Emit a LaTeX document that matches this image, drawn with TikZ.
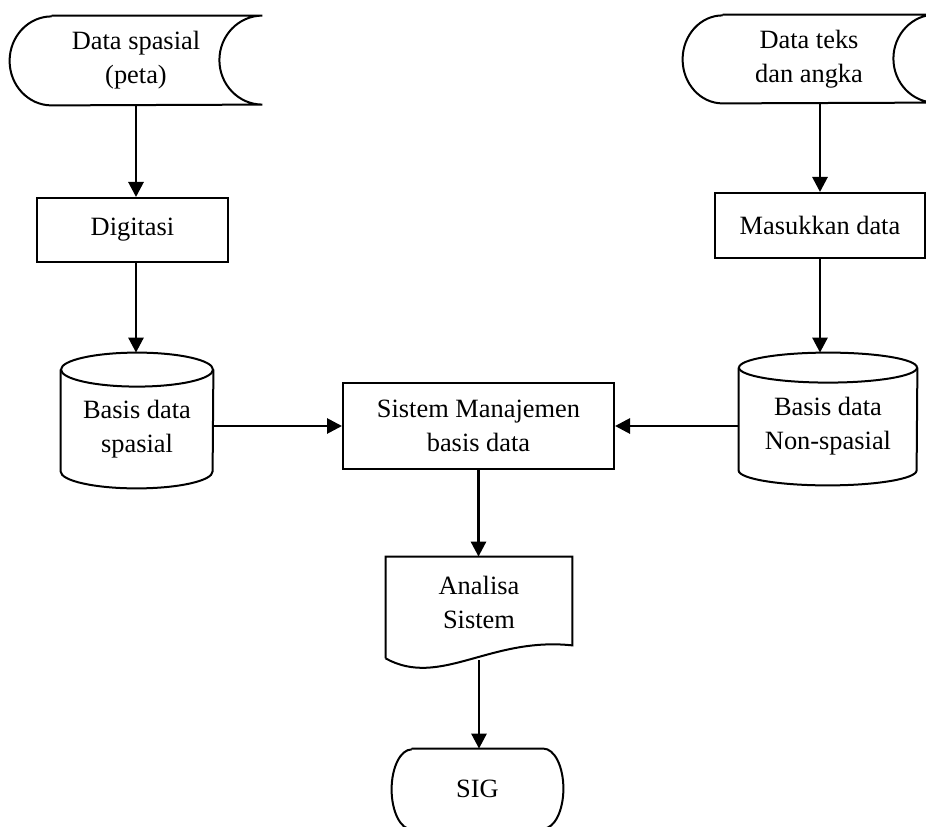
\documentclass[tikz,border=0pt]{standalone}
\usepackage{fontspec}
\setmainfont{Liberation Serif}
\usetikzlibrary{arrows.meta,calc}

\begin{document}
\begin{tikzpicture}
                \tikzset{x=0.5pt, y=0.5pt, font=\fontsize{13.2}{17}\selectfont}
                \tikzstyle{box}=[rectangle, draw, line width=1pt, align=center, inner sep=0pt]
                \tikzstyle{blank}=[rectangle, align=center, inner sep=0pt]
                \tikzstyle{outline}=[line width=1pt]
                \tikzstyle{flow}=[line width=1.4pt, -{Triangle[length=7.5pt, width=7.5pt]}]

                \useasboundingbox (0, 0) rectangle (926, 826);

                % input data
                \draw (136.0, 765.5)  node[blank, minimum width=126pt, minimum height=44.5pt]  (peta)  {Data spasial\\(peta)};
                \draw (809.0, 767.0)  node[blank, minimum width=126pt, minimum height=44pt]    (teks)  {Data teks\\dan angka};

                % input processes
                \draw (132.5, 596.0)  node[box, minimum width=95.5pt, minimum height=32pt]     (digit) {Digitasi};
                \draw (820.0, 600.5)  node[box, minimum width=105pt, minimum height=32.5pt]    (masuk) {Masukkan data};

                % databases
                \draw (137.0, 397.0)  node[blank, minimum width=76pt, minimum height=59pt]     (bdsp)  {Basis data\\spasial};
                \draw (828.0, 399.5)  node[blank, minimum width=89pt, minimum height=58.5pt]   (bdns)  {Basis data\\Non-spasial};
                \coordinate (bdsptop) at ($(bdsp.north)+(0,17)$);
                \coordinate (bdnstop) at ($(bdns.north)+(0,15)$);

                % management system
                \draw (478.5, 400.0)  node[box, minimum width=135.5pt, minimum height=43pt]    (smbd)  {Sistem Manajemen\\basis data};

                % output
                \draw (479.0, 223.5)  node[blank, minimum width=93pt, minimum height=45.5pt]   (anls)  {Analisa\\Sistem};
                \draw (477.5, 37.0)   node[blank, minimum width=85.5pt, minimum height=40pt]   (sig)   {SIG};

                % stored data outlines
                \draw[outline] ($(peta.north west)+(42,0)$) -- (peta.north east)
                    arc[start angle=90, end angle=270, x radius=21.5pt, y radius=22.25pt]
                    -- ($(peta.south west)+(42,0)$)
                    arc[start angle=270, end angle=90, x radius=21pt, y radius=22.25pt];
                \draw[outline] ($(teks.north west)+(40,0)$) -- (teks.north east)
                    arc[start angle=90, end angle=270, x radius=21pt, y radius=22pt]
                    -- ($(teks.south west)+(40,0)$)
                    arc[start angle=270, end angle=90, x radius=20pt, y radius=22pt];

                % cylinder outlines
                \draw[outline] (bdsp.north west) -- ($(bdsp.south west)+(0,17)$)
                    arc[start angle=180, end angle=360, x radius=38pt, y radius=8.5pt] -- (bdsp.north east);
                \draw[outline] (bdsp.north) ellipse[x radius=38pt, y radius=8.5pt];
                \draw[outline] (bdns.north west) -- ($(bdns.south west)+(0,15)$)
                    arc[start angle=180, end angle=360, x radius=44.5pt, y radius=7.5pt] -- (bdns.north east);
                \draw[outline] (bdns.north) ellipse[x radius=44.5pt, y radius=7.5pt];

                % document outline
                \draw[outline] ($(anls.south west)+(0,-10)$) -- (anls.north west) -- (anls.north east)
                    -- ($(anls.south east)+(0,3)$)
                    .. controls ($(anls.south)+(11,12)$) and ($(anls.south)+(-39,-40)$) .. ($(anls.south west)+(0,-10)$);

                % terminal outline
                \draw[outline] ($(sig.north west)+(20,0)$) -- ($(sig.north east)+(-20,0)$)
                    arc[start angle=90, end angle=-90, x radius=10pt, y radius=20pt]
                    -- ($(sig.south west)+(20,0)$)
                    arc[start angle=270, end angle=90, x radius=10pt, y radius=20pt];

                % flow arrows
                \draw[flow] (peta.south) -- (peta.south |- digit.north);
                \draw[flow] (peta.south |- digit.south) -- (peta.south |- bdsptop);
                \draw[flow] (masuk.north |- teks.south) -- (masuk.north);
                \draw[flow] (masuk.south) -- (masuk.south |- bdnstop);
                \draw[flow] (bdsp.east |- smbd.west) -- (smbd.west);
                \draw[flow] (bdns.west |- smbd.east) -- (smbd.east);
                \draw[flow] (smbd.south) -- (smbd.south |- anls.north);
                \draw[flow] ($(anls.south)+(0,-12)$) -- (anls.south |- sig.north);
            \end{tikzpicture}
\end{document}
